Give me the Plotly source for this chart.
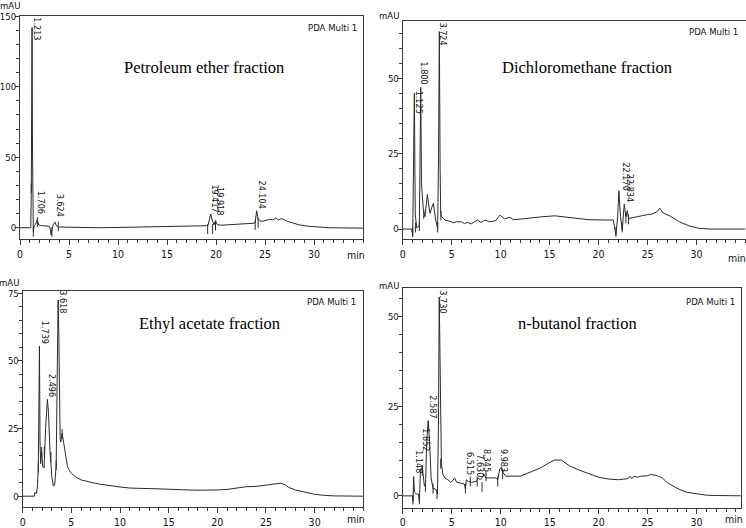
import plotly.graph_objects as go

W, H = 746, 528

# ---------------- data ----------------
# Petroleum ether fraction
pe_t = [0, 1.10, 1.15, 1.20, 1.23, 1.27, 1.32, 1.36, 1.45, 1.60, 1.77, 1.90, 2.2, 2.6, 3.0, 3.10, 3.16, 3.25,
        3.40, 3.57, 3.70, 4.0, 5, 8, 10, 12, 15, 17, 18.5, 19.0, 19.2, 19.46, 19.65, 19.8, 19.95, 20.15, 20.6, 22,
        23.5, 23.9, 24.0, 24.15, 24.3, 24.6, 25.0, 25.5, 25.8, 26.1, 26.4, 26.7, 27.0, 27.3, 27.8, 28.5, 29.5,
        30.5, 31.5, 35]
pe_mau = [0, 0, 25, 120, 142, 60, 8, -2.6, 1.5, 2.5, 5.7, 2.0, 1.5, 1.2, 1.0, -1.0, -5.0, -2.0,
          2.5, 4.0, 1.5, 0.5, 0.3, 0, 0.2, 0.5, 0.8, 1.0, 1.2, 1.4, 2.0, 9.7, 4.5, 2.0, 5.0, 2.0, 1.8, 2.5,
          3.0, 3.2, 4.0, 12.0, 6.0, 4.5, 5.0, 6.0, 5.5, 6.8, 5.5, 6.5, 5.5, 4.5, 3.5, 2.0, 1.0,
          0.3, 0, -0.3]
pe_lab = ["1.213", "1.706", "3.624", "19.417", "19.918", "24.104"]
pe_lab_t = [1.70, 2.14, 4.08, 19.9, 20.4, 24.66]
pe_lab_y = [141, 17.7, 15.6, 20.8, 19.0, 23.8]
pe_mark_t = [1.15, 1.36, 1.77, 3.25, 3.90, 19.15, 19.65, 19.95, 24.0, 24.3]
pe_mark_y = [28, -3, 4, -3, 1, -1, -1, 1.5, 2, 3.5]

# Dichloromethane fraction
dcm_t = [0, 0.9, 1.02, 1.10, 1.19, 1.28, 1.43, 1.70, 1.76, 1.84, 1.92, 1.97, 2.11, 2.28, 2.40, 2.52, 2.65, 2.79,
         2.95, 3.13, 3.37, 3.57, 3.66, 3.74, 3.82, 3.88, 4.00, 4.32, 4.8, 5.17, 5.5, 6.02, 6.3, 6.6, 7.0, 7.62,
         8.0, 8.4, 8.9, 9.5, 9.93, 10.4, 10.95, 11.3, 12, 13, 14, 15.5, 17, 18, 19, 20.7, 21.5, 21.77, 21.95,
         22.07, 22.24, 22.41, 22.62, 22.79, 22.93, 23.06, 23.5, 24, 24.5, 25, 25.5, 26.0, 26.26, 26.6, 27.3,
         28.3, 29.3, 30.3, 31.5, 35]
dcm_mau = [0, 0, -2.0, 20, 45, 5, 0.4, 1.0, 20, 47, 15, 11.5, 6.3, 4.1, 8, 11.5, 8, 5.2,
           7, 8.5, 3.0, 0.2, 25, 65.5, 20, 5.2, 4.0, 3.0, 2.6, 2.1, 2.4, 2.4, 1.8, 2.2, 1.7, 3.0,
           2.2, 3.0, 2.4, 2.8, 4.6, 3.4, 3.9, 3.1, 3.3, 3.7, 4.0, 4.4, 3.8, 3.4, 3.1, 3.0, 3.0, -2.0, 4,
           12.7, 4.1, -0.3, 8.3, 4.1, 6.1, 3.5, 3.8, 4.1, 4.6, 4.8, 5.0, 5.8, 6.9, 5.3, 4.3,
           2.3, 1.0, 0.2, 0, 0]
dcm_lab = ["1.125", "1.800", "3.724", "22.170", "22.834"]
dcm_lab_t = [1.64, 2.13, 4.07, 22.75, 23.2]
dcm_lab_y = [42, 51.7, 64.7, 17.6, 13.7]
dcm_mark_t = [1.02, 1.30, 1.70, 2.15, 3.57, 3.90, 21.77, 22.41, 22.79, 23.06]
dcm_mark_y = [-1.0, 0.5, 1.0, 5.0, 0.5, 4.5, -1.0, 0.5, 3.5, 3.2]

# Ethyl acetate fraction
ea_t = [0, 1.20, 1.25, 1.40, 1.50, 1.60, 1.66, 1.72, 1.78, 1.85, 1.95, 2.06, 2.20, 2.35, 2.54, 2.65, 2.80, 2.90,
        3.00, 3.16, 3.30, 3.44, 3.55, 3.64, 3.71, 3.78, 3.85, 3.92, 4.05, 4.20, 4.40, 4.60, 4.80, 5.0, 5.5, 6.0,
        6.5, 7, 8, 9, 10, 11, 12, 13, 14, 15, 16, 17, 18, 19, 20, 21, 22, 23, 24, 25, 26, 26.5, 27.0, 27.3, 28,
        29, 30, 31, 32, 35]
ea_mau = [0, 0, 1.3, 1.0, 3.0, 10.2, 30, 55.5, 20, 12, 16.4, 10.8, 10.5, 25, 35.8, 31, 17, 13,
          7, 3.7, 4.5, 11.5, 40, 72.5, 60, 35, 21, 20, 23.2, 20, 15, 11, 9.5, 8.4, 7.0, 6.0,
          5.6, 5.1, 4.4, 3.8, 3.4, 3.0, 2.8, 2.8, 2.7, 2.5, 2.4, 2.3, 2.2, 2.2, 2.3, 2.5, 3.0, 3.5, 3.6, 4.0,
          4.5, 4.8, 4.2, 3.3, 2.3, 1.4, 0.7, 0.3, 0.1, 0]
ea_lab = ["1.739", "2.496", "3.618"]
ea_lab_t = [2.23, 2.99, 4.12]
ea_lab_y = [60.6, 40.8, 71.7]
ea_mark_t = [1.60, 1.95, 2.22, 2.90, 3.44, 4.05]
ea_mark_y = [10.5, 16.4, 16.5, 14.5, 11.5, 23.0]

# n-butanol fraction
nb_t = [0, 1.00, 1.05, 1.12, 1.20, 1.40, 1.60, 1.70, 1.80, 1.86, 2.00, 2.10, 2.20, 2.32, 2.45, 2.60, 2.75, 2.90,
        3.00, 3.10, 3.30, 3.45, 3.55, 3.65, 3.73, 3.80, 3.88, 3.95, 4.10, 4.30, 4.60, 4.90, 5.10, 5.30, 5.50,
        6.0, 6.3, 6.4, 6.5, 6.7, 7.0, 7.5, 7.7, 7.9, 8.1, 8.3, 8.5, 9.0, 9.5, 9.7, 9.9, 10.1, 10.25, 10.5, 11,
        12, 13, 14, 15, 15.5, 16.2, 17, 18, 19, 20, 21, 22, 23, 23.2, 23.4, 23.6, 24, 24.3, 25, 25.3, 26, 26.5,
        27, 28, 29, 30, 31, 32, 35]
nb_mau = [0, 0, -1.5, 5.4, 1.0, 0.5, 0.5, -1.5, 6.0, 7.5, 8.0, 5.0, 3.0, 2.5, 15, 21, 15, 5,
          3.0, 2.0, 2.0, 1.5, 0.5, 20, 55.5, 35, 15, 9.0, 6.0, 5.0, 4.5, 3.8, 4.2, 5.0, 3.8,
          3.5, 3.3, 2.0, 4.5, 4.0, 3.8, 4.0, 5.0, 4.5, 5.0, 6.0, 5.0, 5.0, 5.0, 4.5, 7.5, 8.0, 6.5, 5.5, 5.5,
          5.5, 6.6, 7.7, 9.3, 10.0, 10.0, 8.4, 7.2, 6.3, 5.2, 4.7, 4.5, 4.8, 5.5, 4.8, 5.5, 5.2, 5.5, 5.6, 6.0,
          5.6, 5.0, 3.7, 2.1, 1.0, 0.5, 0.2, 0.1, 0]
nb_lab = ["1.148", "1.852", "2.587", "3.730", "6.515", "7.630", "8.345", "9.983"]
nb_lab_t = [1.66, 2.34, 3.12, 4.14, 6.86, 7.81, 8.62, 10.32]
nb_lab_y = [9.4, 15.6, 24.9, 54.2, 8.9, 8.5, 10.0, 9.8]
nb_mark_t = [1.05, 1.70, 2.00, 2.32, 3.10, 3.50, 3.88, 6.40, 6.90, 7.60, 8.10, 8.50, 9.70, 10.20]
nb_mark_y = [-1.0, -1.0, 7.0, 2.5, 2.0, 0.5, 9.0, 2.0, 4.0, 4.0, 2.5, 5.5, 4.0, 6.0]

titles = ["Petroleum ether fraction", "Dichloromethane fraction", "Ethyl acetate fraction", "n-butanol fraction"]
x_ticks = [0, 5, 10, 15, 20, 25, 30]

# ---------------- layout geometry (pixels) ----------------
panels = [
    dict(t=pe_t, y=pe_mau, lab=pe_lab, lt=pe_lab_t, ly=pe_lab_y, mt=pe_mark_t, my=pe_mark_y,
         L=20, R=363, T=15.7, B=239, xr=[0, 35], yr=[-8, 150.4], yt=[0, 50, 100, 150], ym=10,
         title_xy=(204, 67), pda_xy=(359, 27), mau_xy=(10, 5), min_xy=(356, 255)),
    dict(t=dcm_t, y=dcm_mau, lab=dcm_lab, lt=dcm_lab_t, ly=dcm_lab_y, mt=dcm_mark_t, my=dcm_mark_y,
         L=402.7, R=745.5, T=21, B=239.3, xr=[0, 35], yr=[-3.4, 69.0], yt=[0, 25, 50], ym=5,
         title_xy=(587, 67), pda_xy=(740, 31), mau_xy=(389, 15), min_xy=(737, 258)),
    dict(t=ea_t, y=ea_mau, lab=ea_lab, lt=ea_lab_t, ly=ea_lab_y, mt=ea_mark_t, my=ea_mark_y,
         L=22.7, R=363.3, T=290.5, B=507, xr=[0, 35], yr=[-4.0, 76.0], yt=[0, 25, 50, 75], ym=5,
         title_xy=(209, 323), pda_xy=(358, 301), mau_xy=(9, 282), min_xy=(356, 519)),
    dict(t=nb_t, y=nb_mau, lab=nb_lab, lt=nb_lab_t, ly=nb_lab_y, mt=nb_mark_t, my=nb_mark_y,
         L=402.7, R=740.7, T=288, B=507.7, xr=[0, 34.5], yr=[-3.3, 58.0], yt=[0, 25, 50], ym=5,
         title_xy=(577, 323), pda_xy=(737, 301), mau_xy=(389, 285), min_xy=(734, 519)),
]

NARROW = "DejaVu Sans Condensed, Liberation Sans Narrow, Arial Narrow, Liberation Sans, Arial, sans-serif"
SERIF = "Liberation Serif, Times New Roman, serif"
AX = "#3a3a3a"
LINE = "#2a2a2a"

fig = go.Figure()
layout = dict(width=W, height=H, margin=dict(l=0, r=0, t=0, b=0, pad=0, autoexpand=False),
              paper_bgcolor="white", plot_bgcolor="white", showlegend=False, hovermode=False)
annotations = []

def px(x):
    return x / W

def py(y):
    return 1 - y / H

for i, p in enumerate(panels, start=1):
    sfx = "" if i == 1 else str(i)
    xa, ya = "x" + sfx, "y" + sfx
    fig.add_trace(go.Scatter(x=p["t"], y=p["y"], mode="lines", xaxis=xa, yaxis=ya,
                             line=dict(color=LINE, width=1), hoverinfo="skip"))
    fig.add_trace(go.Scatter(x=p["mt"], y=p["my"], mode="markers", xaxis=xa, yaxis=ya,
                             marker=dict(symbol="line-ns-open", size=7, color=LINE,
                                         line=dict(color=LINE, width=1)),
                             hoverinfo="skip"))
    layout["xaxis" + sfx] = dict(
        domain=[px(p["L"]), px(p["R"])], anchor=ya, range=p["xr"], automargin=False,
        tickvals=x_ticks, ticks="outside", ticklen=5, tickwidth=1, tickcolor=AX,
        showline=True, linecolor=AX, linewidth=1, mirror=True, showgrid=False, zeroline=False,
        tickfont=dict(family=NARROW, size=10.5, color="#111"),
        minor=dict(dtick=1, tick0=0, ticks="outside", ticklen=3, tickcolor=AX, showgrid=False),
        fixedrange=True)
    layout["yaxis" + sfx] = dict(
        domain=[py(p["B"]), py(p["T"])], anchor=xa, range=p["yr"], automargin=False,
        tickvals=p["yt"], ticks="outside", ticklen=4, tickwidth=1, tickcolor=AX,
        showline=True, linecolor=AX, linewidth=1, mirror=True, showgrid=False, zeroline=False,
        tickfont=dict(family=NARROW, size=9.5, color="#111"), ticklabelstandoff=-3,
        minor=dict(dtick=p["ym"], tick0=0, ticks="outside", ticklen=3, tickcolor=AX, showgrid=False),
        fixedrange=True)
    for txt, tx, ty in zip(p["lab"], p["lt"], p["ly"]):
        annotations.append(dict(x=tx, y=ty, xref=xa, yref=ya, text=txt, showarrow=False,
                                textangle=90, font=dict(family=NARROW, size=9, color="#111"),
                                xanchor="center", yanchor="middle"))
    tx, ty = p["title_xy"]
    annotations.append(dict(x=px(tx), y=py(ty), xref="paper", yref="paper", text=titles[i - 1],
                            showarrow=False, font=dict(family=SERIF, size=16.5, color="#000"),
                            xanchor="center", yanchor="middle"))
    tx, ty = p["pda_xy"]
    annotations.append(dict(x=px(tx), y=py(ty), xref="paper", yref="paper", text="PDA Multi 1",
                            showarrow=False, font=dict(family=NARROW, size=9.5, color="#111"),
                            xanchor="right", yanchor="middle"))
    tx, ty = p["mau_xy"]
    annotations.append(dict(x=px(tx), y=py(ty), xref="paper", yref="paper", text="mAU",
                            showarrow=False, font=dict(family=NARROW, size=9.5, color="#111"),
                            xanchor="center", yanchor="middle"))
    tx, ty = p["min_xy"]
    annotations.append(dict(x=px(tx), y=py(ty), xref="paper", yref="paper", text="min",
                            showarrow=False, font=dict(family=NARROW, size=10.5, color="#111"),
                            xanchor="center", yanchor="middle"))

layout["annotations"] = annotations
fig.update_layout(**layout)
fig.write_html("out.html", config={"displayModeBar": False, "staticPlot": True},
               post_script="document.body.style.margin='0';document.body.style.padding='0';")
